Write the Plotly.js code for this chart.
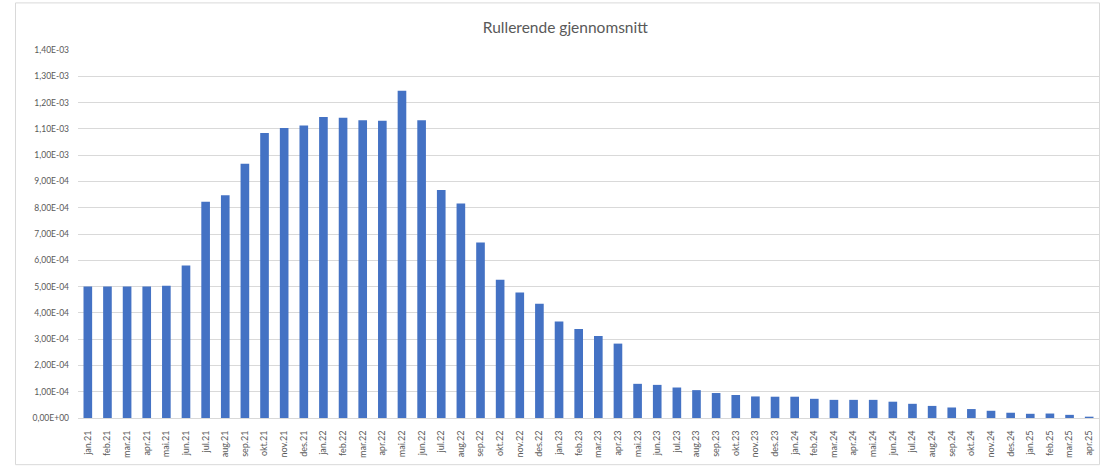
<!DOCTYPE html>
<html>
<head>
<meta charset="utf-8">
<script src="https://cdn.plot.ly/plotly-3.0.1.min.js"></script>
<style>
  html, body { margin: 0; padding: 0; background: #ffffff; }
  #chart { width: 1102px; height: 467px; }
</style>
</head>
<body>
<div id="chart"></div>
<script>
const chartTitle = "Rullerende gjennomsnitt";

const categories = [
  "jan.21","feb.21","mar.21","apr.21","mai.21","jun.21","jul.21","aug.21","sep.21","okt.21","nov.21","des.21",
  "jan.22","feb.22","mar.22","apr.22","mai.22","jun.22","jul.22","aug.22","sep.22","okt.22","nov.22","des.22",
  "jan.23","feb.23","mar.23","apr.23","mai.23","jun.23","jul.23","aug.23","sep.23","okt.23","nov.23","des.23",
  "jan.24","feb.24","mar.24","apr.24","mai.24","jun.24","jul.24","aug.24","sep.24","okt.24","nov.24","des.24",
  "jan.25","feb.25","mar.25","apr.25"
];

const values = [
  5.00e-4, 5.00e-4, 5.00e-4, 5.00e-4, 5.03e-4, 5.80e-4, 8.23e-4, 8.47e-4, 9.67e-4, 1.084e-3, 1.103e-3, 1.113e-3,
  1.145e-3, 1.142e-3, 1.133e-3, 1.131e-3, 1.245e-3, 1.133e-3, 8.67e-4, 8.16e-4, 6.68e-4, 5.26e-4, 4.77e-4, 4.35e-4,
  3.67e-4, 3.39e-4, 3.12e-4, 2.83e-4, 1.30e-4, 1.26e-4, 1.16e-4, 1.06e-4, 9.5e-5, 8.75e-5, 8.2e-5, 8.1e-5,
  8.1e-5, 7.3e-5, 6.9e-5, 6.9e-5, 6.9e-5, 6.2e-5, 5.4e-5, 4.6e-5, 4.0e-5, 3.4e-5, 2.75e-5, 2.0e-5,
  1.6e-5, 1.7e-5, 1.2e-5, 5e-6
];

const yTickVals = [0, 1e-4, 2e-4, 3e-4, 4e-4, 5e-4, 6e-4, 7e-4, 8e-4, 9e-4, 1.0e-3, 1.1e-3, 1.2e-3, 1.3e-3, 1.4e-3];
const yTickText = ["0,00E+00","1,00E-04","2,00E-04","3,00E-04","4,00E-04","5,00E-04","6,00E-04","7,00E-04",
                   "8,00E-04","9,00E-04","1,00E-03","1,10E-03","1,20E-03","1,30E-03","1,40E-03"];

const labelFont = { family: "Lato, 'Liberation Sans', sans-serif", color: "#595959" };

const trace = {
  type: "bar",
  x: categories,
  y: values,
  marker: { color: "#4472C4" },
  hoverinfo: "x+y"
};

const layout = {
  width: 1102,
  height: 467,
  margin: { l: 78, r: 3, t: 50, b: 49, pad: 0 },
  paper_bgcolor: "#ffffff",
  plot_bgcolor: "#ffffff",
  bargap: 0.56,
  showlegend: false,
  title: {
    text: chartTitle,
    font: { family: labelFont.family, size: 15.5, color: "#595959" },
    xref: "container", x: 0.513, xanchor: "center",
    yref: "container", y: 0.942, yanchor: "middle"
  },
  xaxis: {
    type: "category",
    tickangle: -90,
    tickfont: { family: labelFont.family, size: 9, color: labelFont.color },
    showgrid: false,
    showline: true,
    linecolor: "#D9D9D9",
    linewidth: 1,
    ticks: "",
    ticklabelstandoff: 8,
    fixedrange: true
  },
  yaxis: {
    range: [0, 1.4e-3],
    tickmode: "array",
    tickvals: yTickVals,
    ticktext: yTickText,
    tickfont: { family: labelFont.family, size: 8.5, color: labelFont.color },
    showgrid: true,
    gridcolor: "#D9D9D9",
    gridwidth: 1,
    zeroline: false,
    showline: false,
    ticks: "",
    ticklabelstandoff: 8,
    fixedrange: true
  },
  shapes: [{
    type: "rect",
    xref: "paper", yref: "paper",
    x0: -0.0612, x1: 1.0005, y0: -0.1268, y1: 1.128,
    line: { color: "#D9D9D9", width: 1 },
    fillcolor: "rgba(0,0,0,0)",
    layer: "below"
  }]
};

Plotly.newPlot("chart", [trace], layout, { displayModeBar: false, staticPlot: true });
</script>
</body>
</html>
